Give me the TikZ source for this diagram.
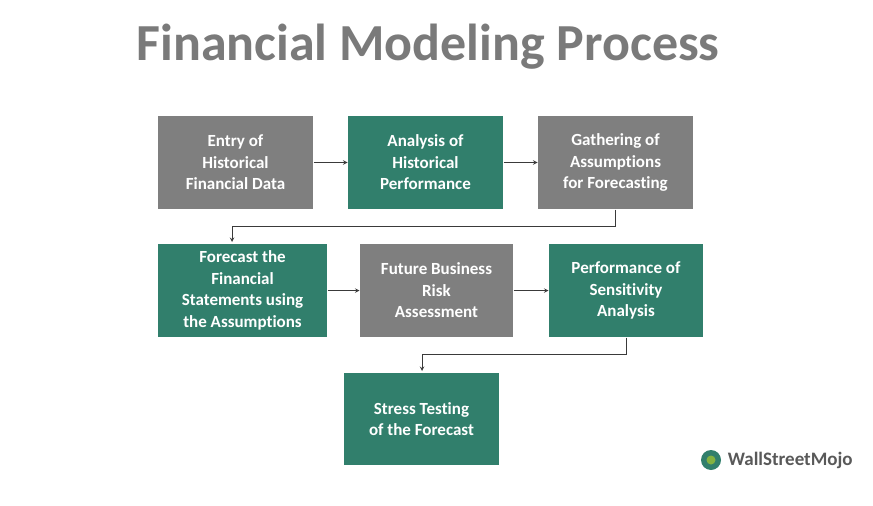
\documentclass[tikz,border=0pt]{standalone}
\usepackage{fontspec}
\setmainfont{Carlito}[Ligatures=NoCommon]
\usetikzlibrary{positioning, arrows}
\definecolor{boxgray}{HTML}{7F7F7F}
\definecolor{boxgreen}{HTML}{317F6C}
\definecolor{titlegray}{HTML}{7A7A7A}
\definecolor{linegray}{HTML}{3A3A3A}

\begin{document}
\begin{tikzpicture}[x=1pt,y=-1pt,->,>=stealth,
	line width=1pt,draw=linegray]
	\tikzstyle{stepbox}=[draw=none,minimum height=93pt,align=center,
		text=white,font=\fontsize{17}{21.5}\selectfont\bfseries,inner sep=2pt]
	\tikzstyle{graybox}=[stepbox,fill=boxgray]
	\tikzstyle{greenbox}=[stepbox,fill=boxgreen]
	\useasboundingbox (0,0) rectangle (873,506);
	\node[text=titlegray,font=\fontsize{52}{58}\selectfont\bfseries] (title) at (428,47) {Financial Modeling Process};
	% first row
	\node[graybox,minimum width=155pt] (A) at (235.5,162.5) {Entry of\\Historical\\Financial Data};
	\node[greenbox,minimum width=155pt] (B) at (425.5,162.5) {Analysis of\\Historical\\Performance};
	\node[graybox,minimum width=155pt] (C) at (615.5,162.5) {Gathering of\\Assumptions\\for Forecasting};
	% second row
	\node[greenbox,minimum width=169pt] (D) at (242.5,290.5) {Forecast the\\Financial\\Statements using\\the Assumptions};
	\node[graybox,minimum width=153pt] (E) at (436.5,290.5) {Future Business\\Risk\\Assessment};
	\node[greenbox,minimum width=154pt] (F) at (626,290.5) {Performance of\\Sensitivity\\Analysis};
	% third row
	\node[greenbox,minimum width=155pt,minimum height=92pt] (G) at (421.5,419) {Stress Testing\\of the Forecast};
	% logo
	\node[text=boxgray!70!black,font=\fontsize{19}{22}\selectfont\bfseries,anchor=west] (logo) at (724,460) {WallStreetMojo};
	\fill[boxgreen] (711,460) circle (10pt);
	\fill[boxgreen!60!yellow] (711,460) circle (4.5pt);

	\draw (A) -- (B);
	\draw (B) -- (C);
	\draw (E) -- (F);
	\draw (D) -- (E);
	\draw (C.south) |- (232,226) -- (232,242);
	\draw (F.south) |- (422,354) -- (422,371);
\end{tikzpicture}
\end{document}
